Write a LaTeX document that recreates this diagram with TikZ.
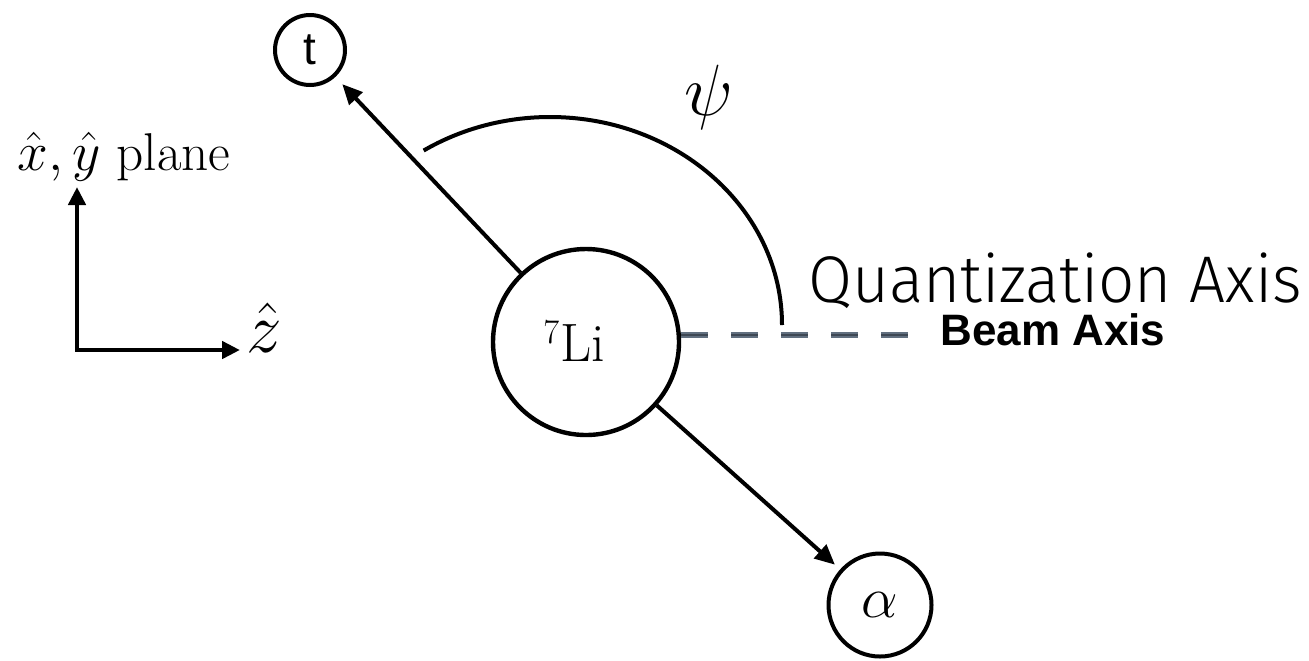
\documentclass[tikz,border=0pt]{standalone}
\usepackage{fontspec}
\usepackage{graphicx}
\usetikzlibrary{arrows.meta}
\newfontfamily\qfont{Fira Sans Light}[FakeStretch=0.965]
\newfontfamily\hfont{Liberation Sans}
\definecolor{beamcol}{RGB}{98,112,128}
\definecolor{beamdark}{RGB}{62,72,84}
\newcommand{\bigmath}[2]{\scalebox{#1}{\fontsize{20}{24}\selectfont #2}}
\begin{document}
\begin{tikzpicture}[x=0.5pt,y=-0.5pt,
  ball/.style={circle, draw, line width=2pt, inner sep=0pt},
  arr/.style={line width=2pt, -{Triangle[length=10pt,width=9pt]}},
  axarr/.style={line width=2.3pt, line join=miter, {Triangle[length=9pt,width=8.5pt]}-{Triangle[length=9pt,width=8.5pt]}},
  beam/.style={dash pattern=on 13.5pt off 11.5pt}
]
\useasboundingbox (0,0) rectangle (1309,660);
% nodes
\node[ball, line width=2.2pt, minimum size=93pt] (li) at (586,342) {};
\node[inner sep=0pt] (lilabel) at (574,341) {\fontsize{27}{32}\selectfont $^{7}$Li};
\node[ball, minimum size=35pt, font=\hfont\fontsize{23}{27}\selectfont] (t) at (310,50) {t};
\node[ball, minimum size=51.5pt] (al) at (880,605) {\bigmath{1.4}{$\alpha$}};
% arrows
\draw[arr, shorten >=5pt] (li) -- (t);
\draw[arr, shorten >=3.5pt] (li) -- (al);
% angle arc
\coordinate (arcstart) at (782,325);
\draw[line width=2pt] (arcstart) arc[start angle=0, end angle=123, x radius=116pt, y radius=104pt];
\node (psi) at (709,97) {\bigmath{1.75}{$\psi$}};
% beam axis
\coordinate (b0) at (681,335);
\coordinate (b1) at (908,335);
\draw[beam, line width=3.2pt, beamcol] (b0) -- (b1);
\draw[beam, line width=1.4pt, beamdark] (b0) -- (b1);
\node[anchor=base west, inner sep=0pt, font=\qfont\fontsize{33}{40}\selectfont] (qa) at (808,302) {Quantization Axis};
\node[anchor=base west, inner sep=0pt, font=\hfont\bfseries\fontsize{22}{26}\selectfont] (ba) at (940,345) {Beam Axis};
% axes
\coordinate (o) at (77,350);
\coordinate (yt) at (77,187);
\coordinate (zt) at (240,350);
\draw[axarr] (yt) -- (o) -- (zt);
\node[anchor=base west, inner sep=0pt] (zlab) at (246,352) {\bigmath{1.72}{$\hat{z}$}};
\node[anchor=base west, inner sep=0pt] (plab) at (17,170) {\bigmath{1.33}{$\hat{x},\hat{y}$ plane}};
\end{tikzpicture}
\end{document}
